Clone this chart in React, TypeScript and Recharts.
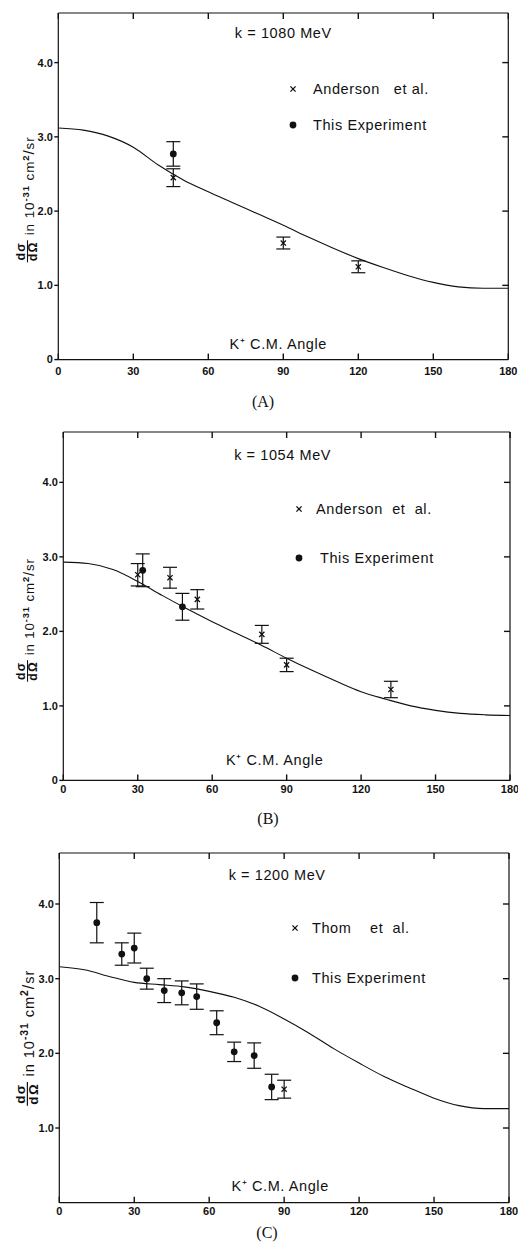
import React from "react";
import { ComposedChart, Line, Scatter, XAxis, YAxis, ErrorBar, Legend, Label } from "recharts";

const FONT = '"Liberation Sans", Arial, sans-serif';
const INK = "#111";

const angleTicks = [0, 30, 60, 90, 120, 150, 180];
const curveAngles = [0, 10, 20, 30, 40, 50, 60, 70, 80, 90, 100, 110, 120, 130, 140, 150, 160, 170, 180];

// (A) k = 1080 MeV
const curveA = [3.12, 3.09, 3.01, 2.86, 2.62, 2.42, 2.26, 2.11, 1.96, 1.81, 1.65, 1.5, 1.36, 1.24, 1.13, 1.04, 0.98, 0.96, 0.96];
const andersonA_x = [46, 90, 120];
const andersonA_y = [2.45, 1.57, 1.25];
const andersonA_err = [0.12, 0.08, 0.08];
const thisA_x = [46];
const thisA_y = [2.77];
const thisA_err = [0.165];

// (B) k = 1054 MeV
const curveB = [2.93, 2.91, 2.83, 2.67, 2.48, 2.3, 2.13, 1.97, 1.81, 1.64, 1.48, 1.33, 1.19, 1.09, 1.0, 0.94, 0.9, 0.88, 0.87];
const andersonB_x = [30, 43, 54, 80, 90, 132];
const andersonB_y = [2.76, 2.72, 2.43, 1.96, 1.55, 1.22];
const andersonB_err = [0.15, 0.14, 0.13, 0.12, 0.09, 0.11];
const thisB_x = [32, 48];
const thisB_y = [2.82, 2.33];
const thisB_err = [0.22, 0.18];

// (C) k = 1200 MeV
const curveC = [3.16, 3.12, 3.03, 2.95, 2.92, 2.89, 2.83, 2.75, 2.63, 2.46, 2.27, 2.06, 1.87, 1.69, 1.54, 1.4, 1.3, 1.26, 1.26];
const thomC_x = [90];
const thomC_y = [1.52];
const thomC_err = [0.12];
const thisC_x = [15, 25, 30, 35, 42, 49, 55, 63, 70, 78, 85];
const thisC_y = [3.75, 3.33, 3.41, 3.0, 2.84, 2.81, 2.76, 2.41, 2.02, 1.97, 1.55];
const thisC_err = [0.27, 0.15, 0.2, 0.14, 0.16, 0.16, 0.17, 0.16, 0.13, 0.17, 0.17];

const pts = (xs: number[], ys: number[], es: number[]) => xs.map((x, i) => ({ x, y: ys[i], err: es[i] }));
const curve = (ys: number[]) => curveAngles.map((x, i) => ({ x, y: ys[i] }));

const Cross = (props: any) => {
  const { cx, cy } = props;
  if (cx == null || cy == null) return null;
  const s = 2.6;
  return (
    <g stroke={INK} strokeWidth={1.3}>
      <line x1={cx - s} y1={cy - s} x2={cx + s} y2={cy + s} />
      <line x1={cx - s} y1={cy + s} x2={cx + s} y2={cy - s} />
    </g>
  );
};

const Dot = (props: any) => {
  const { cx, cy } = props;
  if (cx == null || cy == null) return null;
  return <circle cx={cx} cy={cy} r={3.4} fill={INK} />;
};

const panels = [
  {
    id: "A",
    plotLeft: 58.3, plotRight: 508.3, plotTop: 12.7, plotBottom: 359.3, yMax: 4.668,
    yTicks: [0, 1, 2, 3, 4], xLabelY: 371,
    title: "k = 1080 MeV", titleOffset: 15, titleDx: 0,
    axisOffset: 11, axisDx: -5,
    yLabelBottom: 262, yLabelScale: 1,
    legendX: 293, legendRows: [89, 125], legendText: [313, 313],
    caption: "(A)", captionX: 263, captionY: 402,
    curve: curve(curveA),
    series: [
      { name: "Anderson et al.", label: "Anderson   et al.", marker: "x", data: pts(andersonA_x, andersonA_y, andersonA_err) },
      { name: "This Experiment", label: "This Experiment", marker: "o", data: pts(thisA_x, thisA_y, thisA_err) },
    ],
  },
  {
    id: "B",
    plotLeft: 63.3, plotRight: 510, plotTop: 432.3, plotBottom: 780.7, yMax: 4.676,
    yTicks: [0, 1, 2, 3, 4], xLabelY: 789.5,
    title: "k = 1054  MeV", titleOffset: 17.5, titleDx: -4,
    axisOffset: 15.5, axisDx: -12,
    yLabelBottom: 682, yLabelScale: 0.98,
    legendX: 299, legendRows: [509, 558], legendText: [316, 320],
    caption: "(B)", captionX: 268, captionY: 819,
    curve: curve(curveB),
    series: [
      { name: "Anderson et al.", label: "Anderson  et  al.", marker: "x", data: pts(andersonB_x, andersonB_y, andersonB_err) },
      { name: "This Experiment", label: "This Experiment", marker: "o", data: pts(thisB_x, thisB_y, thisB_err) },
    ],
  },
  {
    id: "C",
    plotLeft: 59.3, plotRight: 509, plotTop: 853.3, plotBottom: 1203, yMax: 4.683,
    yTicks: [1, 2, 3, 4], xLabelY: 1211.7,
    title: "k = 1200  MeV", titleOffset: 16.5, titleDx: -7,
    axisOffset: 11.3, axisDx: -4,
    yLabelBottom: 1106, yLabelScale: 1.08,
    legendX: 295, legendRows: [928, 978], legendText: [312, 312],
    caption: "(C)", captionX: 267, captionY: 1233,
    curve: curve(curveC),
    series: [
      { name: "Thom et al.", label: "Thom    et  al.", marker: "x", data: pts(thomC_x, thomC_y, thomC_err) },
      { name: "This Experiment", label: "This Experiment", marker: "o", data: pts(thisC_x, thisC_y, thisC_err) },
    ],
  },
];

const PAD_TOP = 10;
const PAD_BOTTOM = 40;
const Y_W = 30; // left axis band
const X_H = 30; // bottom axis band
const TICK = 6;
const labelFont = { fill: INK, fontSize: 11, fontWeight: "bold", fontFamily: FONT } as const;
const lineStyle = { stroke: INK, strokeWidth: 1.2 };

function YTitle({ x, bottom, scale }: { x: number; bottom: number; scale: number }) {
  return (
    <g transform={`translate(${x},${bottom}) rotate(-90) scale(${scale})`} fontFamily={FONT} fill={INK}>
      <text x={11} y={-4} fontSize={12.5} fontWeight="bold" textAnchor="middle" letterSpacing={1.2}>dσ</text>
      <line x1={0} x2={22} y1={-1.5} y2={-1.5} stroke={INK} strokeWidth={1.1} />
      <text x={11} y={8} fontSize={12.5} fontWeight="bold" textAnchor="middle" letterSpacing={1.2}>dΩ</text>
      <text x={27} y={5} fontSize={13.5} letterSpacing={0.9}>
        in 10
        <tspan dy={-5.5} fontSize={9.5} fontWeight="bold">-31</tspan>
        <tspan dy={5.5}> cm</tspan>
        <tspan dy={-5.5} fontSize={9.5} fontWeight="bold">2</tspan>
        <tspan dy={5.5} fontSize={15}>/</tspan>
        <tspan>sr</tspan>
      </text>
    </g>
  );
}

function Panel({ p }: { p: (typeof panels)[number] }) {
  const chartTop = p.plotTop - PAD_TOP;
  const height = p.plotBottom - p.plotTop + PAD_TOP + PAD_BOTTOM;
  const topY = PAD_TOP;
  const bottomY = p.plotBottom - chartTop;
  const order = p.series.map((s) => s.name);
  const markerOf: Record<string, string> = {};
  const labelOf: Record<string, string> = {};
  p.series.forEach((s) => {
    markerOf[s.name] = s.marker;
    labelOf[s.name] = s.label;
  });

  // inside ticks drawn with the labels, from the axis coordinate
  const bottomTick = (t: any) => (
    <g>
      <line x1={t.x} x2={t.x} y1={bottomY} y2={bottomY - TICK} stroke={INK} strokeWidth={1.4} />
      <text x={t.x} y={p.xLabelY - chartTop + 4} textAnchor="middle" {...labelFont}>
        {t.payload.value}
      </text>
    </g>
  );
  const topTick = (t: any) => (
    <line x1={t.x} x2={t.x} y1={topY} y2={topY + TICK} stroke={INK} strokeWidth={1.4} />
  );
  const rightTick = (t: any) => (
    <line x1={p.plotRight} x2={p.plotRight - TICK} y1={t.y} y2={t.y} stroke={INK} strokeWidth={1.4} />
  );

  const renderLegend = (props: any) => {
    const items = (props.payload || [])
      .filter((e: any) => markerOf[e.value])
      .sort((a: any, b: any) => order.indexOf(a.value) - order.indexOf(b.value));
    return (
      <div style={{ position: "relative", fontFamily: FONT, fontSize: 14.5, color: INK, letterSpacing: 0.6 }}>
        {items.map((e: any, i: number) => (
          <div
            key={e.value}
            style={{ position: "absolute", left: 0, top: p.legendRows[i] - p.legendRows[0], height: 18, display: "flex", alignItems: "center", whiteSpace: "pre" }}
          >
            <svg width={10} height={10} style={{ flex: "none" }}>
              {markerOf[e.value] === "x" ? <Cross cx={5} cy={5} /> : <Dot cx={5} cy={5} />}
            </svg>
            <span style={{ marginLeft: p.legendText[i] - (p.legendX + 5) }}>{labelOf[e.value]}</span>
          </div>
        ))}
      </div>
    );
  };

  return (
    <>
      <div style={{ position: "absolute", left: 0, top: chartTop }}>
        <ComposedChart
          width={518}
          height={height}
          margin={{ top: PAD_TOP - 1, bottom: PAD_BOTTOM - X_H, left: p.plotLeft - Y_W, right: 518 - p.plotRight - 1 }}
        >
          <XAxis
            xAxisId="b"
            type="number"
            dataKey="x"
            domain={[0, 180]}
            allowDataOverflow
            ticks={angleTicks}
            interval={0}
            height={X_H}
            axisLine={lineStyle}
            tickLine={false}
            tick={bottomTick}
          >
            <Label
              value="K⁺ C.M. Angle"
              position="top"
              offset={p.axisOffset}
              dx={p.axisDx}
              style={{ fill: INK, fontSize: 14.5, fontFamily: FONT, letterSpacing: 0.6 }}
            />
          </XAxis>
          <XAxis
            xAxisId="t"
            orientation="top"
            type="number"
            dataKey="x"
            domain={[0, 180]}
            allowDataOverflow
            ticks={angleTicks}
            interval={0}
            height={1}
            axisLine={lineStyle}
            tickLine={false}
            tick={topTick}
          >
            <Label
              value={p.title}
              position="bottom"
              offset={p.titleOffset}
              dx={p.titleDx}
              style={{ fill: INK, fontSize: 14.5, fontFamily: FONT, letterSpacing: 0.6, whiteSpace: "pre" }}
            />
          </XAxis>
          <YAxis
            yAxisId="l"
            type="number"
            domain={[0, p.yMax]}
            allowDataOverflow
            ticks={p.yTicks}
            interval={0}
            width={Y_W}
            tickSize={4}
            tickMargin={1.5}
            axisLine={lineStyle}
            tickLine={{ stroke: INK, strokeWidth: 1.4 }}
            tick={labelFont}
            tickFormatter={(v: number) => (v === 0 ? "0" : v.toFixed(1))}
          >
            <Label content={() => <YTitle x={29} bottom={p.yLabelBottom - chartTop} scale={p.yLabelScale} />} />
          </YAxis>
          <YAxis
            yAxisId="r"
            orientation="right"
            type="number"
            domain={[0, p.yMax]}
            allowDataOverflow
            ticks={[1, 2, 3, 4]}
            interval={0}
            width={1}
            axisLine={lineStyle}
            tickLine={false}
            tick={rightTick}
          />
          <Line
            xAxisId="b"
            yAxisId="l"
            data={p.curve}
            dataKey="y"
            type="monotone"
            dot={false}
            stroke={INK}
            strokeWidth={1.1}
            legendType="none"
            isAnimationActive={false}
          />
          {p.series.map((s) => (
            <Scatter
              key={s.name}
              name={s.name}
              xAxisId="b"
              yAxisId="l"
              data={s.data}
              dataKey="y"
              shape={s.marker === "x" ? Cross : Dot}
              isAnimationActive={false}
            >
              <ErrorBar dataKey="err" direction="y" width={7} stroke={INK} strokeWidth={1.2} isAnimationActive={false} />
            </Scatter>
          ))}
          <Legend
            layout="vertical"
            align="center"
            verticalAlign="middle"
            content={renderLegend}
            wrapperStyle={{ top: p.legendRows[0] - chartTop - 9, left: p.legendX - 5, width: 220, height: 80 }}
          />
        </ComposedChart>
      </div>
      <div
        style={{
          position: "absolute",
          left: p.captionX - 30,
          width: 60,
          top: p.captionY - 10,
          textAlign: "center",
          fontFamily: '"Liberation Serif", "Times New Roman", serif',
          fontSize: 16,
          lineHeight: "20px",
          color: INK,
        }}
      >
        {p.caption}
      </div>
    </>
  );
}

export default function App() {
  return (
    <div style={{ position: "absolute", left: 0, top: 0, width: 518, height: 1253, background: "#fff", overflow: "hidden" }}>
      {panels.map((p) => (
        <Panel key={p.id} p={p} />
      ))}
    </div>
  );
}
